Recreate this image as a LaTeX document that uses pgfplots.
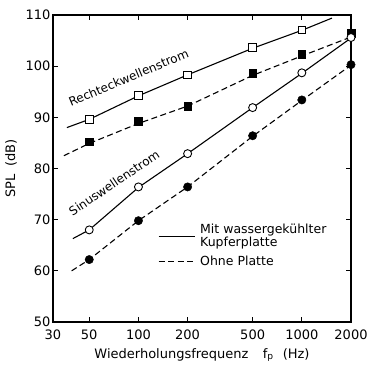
\documentclass[border=0pt]{standalone}
\usepackage{fontspec}
\setmainfont{DejaVu Sans}
\usepackage{pgfplots}
\pgfplotsset{compat=1.18}
\begin{document}
\begin{tikzpicture}
\path (-53pt,-49pt) rectangle (315pt,322pt);
\begin{axis}[
  at={(0pt,0pt)}, anchor=south west,
  width=298pt, height=307pt, scale only axis,
  xmode=log, xmin=30, xmax=2000, ymin=50, ymax=110,
  xtick={30,50,100,200,500,1000,2000},
  xticklabels={30,50,100,200,500,1000,2000},
  ytick={50,60,70,80,90,100,110},
  minor tick num=0, minor x tick num=0,
  tick align=inside, major tick length=5pt,
  tick style={line width=0.9pt, black},
  /pgf/number format/assume math mode=true,
  tick label style={font=\fontsize{13}{15}\selectfont},
  xticklabel style={yshift=-4pt},
  yticklabel style={xshift=1pt},
  label style={font=\fontsize{13}{15}\selectfont},
  xlabel style={yshift=-2pt},
  ylabel style={yshift=2pt},
  xlabel={Wiederholungsfrequenz\hspace{1.1em}f\textsubscript{p}\hspace{0.7em}(Hz)},
  ylabel={SPL\hspace{0.6em}(dB)},
  axis line style={line width=1.2pt},
  clip=false,
  legend style={at={(axis description cs:0.352,0.326)}, anchor=north west,
    draw=none, fill=none, inner sep=0pt, row sep=4pt,
    font=\fontsize{12.5}{13.3}\selectfont,
    cells={anchor=west, align=left},
    nodes={inner xsep=5pt}},
  legend image code/.code={\draw[#1] (0pt,0pt) -- (36pt,0pt);},
]
% legend
\addlegendimage{black, line width=1.1pt}
\addlegendentry{Mit wassergekühlter\\Kupferplatte}
\addlegendimage{black, line width=1.1pt, dash pattern=on 6pt off 3.5pt}
\addlegendentry{Ohne Platte}

% Rechteck solid
\addplot[black, line width=1.1pt, forget plot] coordinates {
 (36.5,88.0) (50,89.6) (100,94.2) (200,98.3) (500,103.5) (1000,107.0) (1530,109.4)};
% Rechteck dashed
\addplot[black, line width=1.1pt, dash pattern=on 6pt off 3.5pt, forget plot] coordinates {
 (35,82.5) (50,84.9) (100,88.8) (200,92.2) (500,98.2) (1000,102.0) (2000,105.7)};
% Sinus solid
\addplot[black, line width=1.1pt, forget plot] coordinates {
 (39.7,66.3) (50,68.0) (100,76.3) (200,82.9) (500,91.9) (1000,98.6) (2000,105.5)};
% Sinus dashed
\addplot[black, line width=1.1pt, dash pattern=on 6pt off 3.5pt, forget plot] coordinates {
 (39,60.0) (50,62.2) (100,69.8) (200,76.4) (500,86.3) (1000,93.3) (2000,100.2)};

% markers
\addplot[only marks, mark=square*, mark size=3.8pt, mark options={fill=white, draw=black, line width=0.9pt}, forget plot] coordinates {
 (50,89.6) (100,94.3) (200,98.3) (500,103.6) (1000,107.1)};
\addplot[only marks, mark=square*, mark size=3.8pt, mark options={fill=black, draw=black}, forget plot] coordinates {
 (50,85.2) (100,89.3) (200,92.2) (500,98.6) (1000,102.3) (2000,106.4)};
\addplot[only marks, mark=*, mark size=4pt, mark options={fill=white, draw=black, line width=0.9pt}, forget plot] coordinates {
 (50,68.0) (100,76.4) (200,82.9) (500,91.9) (1000,98.7) (2000,105.6)};
\addplot[only marks, mark=*, mark size=4.2pt, mark options={fill=black, draw=black}, forget plot] coordinates {
 (50,62.2) (100,69.8) (200,76.4) (500,86.4) (1000,93.4) (2000,100.3)};

\node[rotate=22.8, font=\fontsize{12}{14}\selectfont] at (axis cs:87,97.8) {Rechteckwellenstrom};
\node[rotate=34, font=\fontsize{12}{14}\selectfont] at (axis cs:71,77.2) {Sinuswellenstrom};
\end{axis}
\end{tikzpicture}
\end{document}
